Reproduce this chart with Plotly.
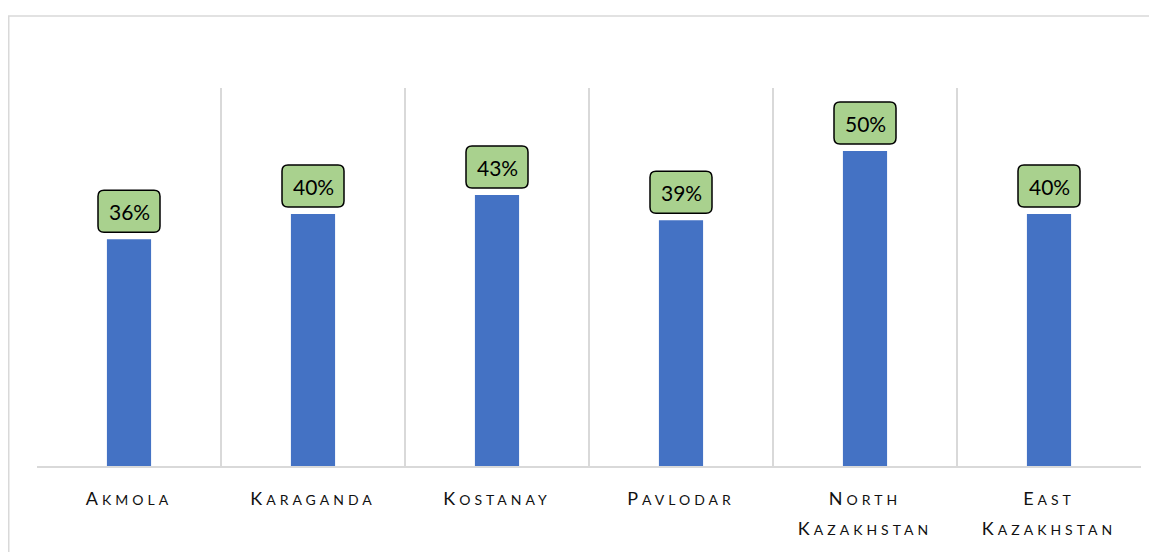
import plotly.graph_objects as go

categories = ["Akmola", "Karaganda", "Kostanay", "Pavlodar", "North Kazakhstan", "East Kazakhstan"]
values = [0.36, 0.40, 0.43, 0.39, 0.50, 0.40]
value_labels = ["36%", "40%", "43%", "39%", "50%", "40%"]

# page has an 8px body margin; figure is sized to fit the window
W, H = 1149, 544
ML, MR, MT, MB = 29, 16, 80, 86
PW, PH = W - ML - MR, H - MT - MB
YMAX = 0.6

BAR_COLOR = "#4472C4"
GRID = "#D9D9D9"
BOX_FILL = "#A9D18E"


def small_caps(name):
    lines = []
    for word in name.split(" "):
        first = "<span style='font-size:18px;letter-spacing:4px'>%s</span>" % word[0].upper()
        rest = "<span style='font-size:14px;letter-spacing:4px'>%s</span>" % word[1:].upper()
        lines.append(first + rest)
    return "<br>".join(lines)


ticktext = [small_caps(c) for c in categories]
xs = list(range(len(categories)))

fig = go.Figure()
fig.add_trace(go.Bar(x=xs, y=values, marker=dict(color=BAR_COLOR, line=dict(width=0)),
                     width=0.24, hoverinfo="skip"))

# rounded label boxes (pixel-sized, anchored on bar tops)
bw, bh, gap, r = 62, 42, 7, 6
x0, x1 = -bw / 2, bw / 2
y0, y1 = gap, gap + bh
path = (f"M {x0+r},{y0} L {x1-r},{y0} Q {x1},{y0} {x1},{y0+r} L {x1},{y1-r} "
        f"Q {x1},{y1} {x1-r},{y1} L {x0+r},{y1} Q {x0},{y1} {x0},{y1-r} "
        f"L {x0},{y0+r} Q {x0},{y0} {x0+r},{y0} Z")
for i, (v, lab) in enumerate(zip(values, value_labels)):
    fig.add_shape(type="path", path=path, xref="x", yref="y",
                  xsizemode="pixel", ysizemode="pixel", xanchor=i, yanchor=v,
                  fillcolor=BOX_FILL, line=dict(color="black", width=1.5), layer="above")
    fig.add_annotation(x=i, y=v, xref="x", yref="y", text=lab, showarrow=False,
                       yshift=gap + bh / 2, yanchor="middle",
                       font=dict(family="Lato, sans-serif", size=21, color="black"))

# outer frame (left and top lines)
lx = (0.75 - ML) / PW
ty = (MT + PH - 8) / PH
by = (MT + PH - (H + 10)) / PH
rx = (W + 10 - ML) / PW
fig.add_shape(type="path", xref="paper", yref="paper",
              path=f"M {lx},{by} L {lx},{ty} L {rx},{ty}",
              line=dict(color=GRID, width=1.5))

fig.update_layout(
    width=W, height=H,
    margin=dict(l=ML, r=MR, t=MT, b=MB),
    paper_bgcolor="white", plot_bgcolor="white",
    showlegend=False,
    font=dict(family="Lato, sans-serif", color="#262626"),
    xaxis=dict(
        range=[-0.5, len(categories) - 0.5],
        tickvals=xs, ticktext=ticktext,
        tickfont=dict(size=23, color="#111111"),
        showgrid=False, zeroline=False,
        showline=True, linecolor=GRID, linewidth=1.5,
        ticks="", ticklabelstandoff=10,
        minor=dict(tickvals=[i - 0.5 for i in range(len(categories) + 1)],
                   showgrid=True, gridcolor=GRID, gridwidth=1.5, ticks=""),
        fixedrange=True,
    ),
    yaxis=dict(range=[0, YMAX], visible=False, showgrid=False, zeroline=False, fixedrange=True),
)

fig.write_html("out.html")
